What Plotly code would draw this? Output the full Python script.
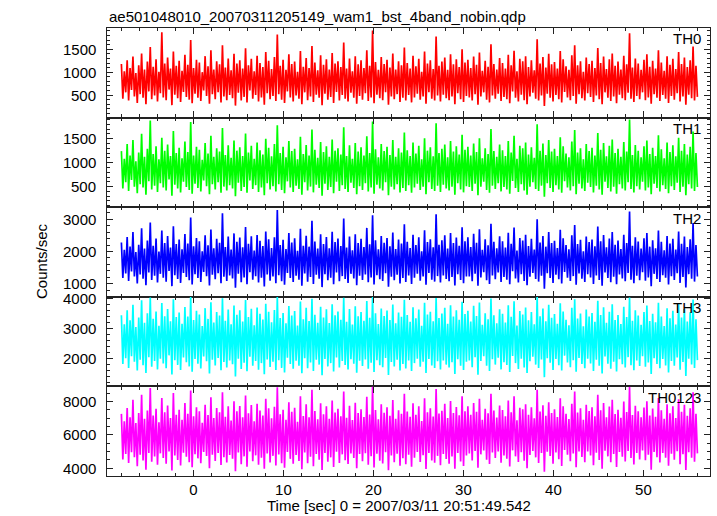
import numpy as np
import plotly.graph_objects as go
from plotly.subplots import make_subplots

title_text = "ae501048010_20070311205149_wam1_bst_4band_nobin.qdp"
band_names = ["TH0", "TH1", "TH2", "TH3", "TH0123"]
band_colors = ["#ff0000", "#00ff00", "#0000ff", "#00ffff", "#ff00ff"]
t_start, t_end = -8.0, 56.0

th0 = [
    1180,420,1020,560,1260,380,1090,610,1340,470,980,330,1150,520,1410,440,1060,300,1230,580,
    1550,410,1120,490,1280,360,1010,540,1870,450,1190,390,1320,620,1080,280,1450,510,1140,430,
    1250,350,1030,570,1380,460,1160,400,1700,320,1090,530,1270,440,1210,370,1000,600,1350,480,
    1130,310,1480,520,1060,410,1240,560,1170,340,1590,470,1100,390,1300,500,1040,430,1400,270,
    1190,550,1260,380,1080,460,1520,340,1150,600,1290,420,1020,500,1360,360,1200,450,1110,290,
    1440,540,1250,410,1070,480,1330,370,1820,520,1140,400,1270,330,1050,580,1390,450,1180,360,
    1230,490,1010,420,1460,300,1120,560,1310,390,1090,470,1570,350,1210,510,1040,440,1370,280,
    1160,530,1280,400,1060,460,1420,330,1190,570,1240,380,1110,500,1650,420,1080,360,1300,550,
    1020,440,1350,310,1170,480,1260,400,1090,540,1480,370,1140,450,1910,320,1220,510,1050,430,
    1330,390,1180,560,1270,290,1100,470,1410,410,1060,520,1240,350,1150,440,1540,380,1200,500,
    1080,340,1360,450,1130,530,1290,400,1010,470,1450,310,1190,560,1260,420,1070,380,1780,490,
    1140,360,1230,510,1320,430,1050,390,1390,470,1170,300,1280,540,1110,410,1500,350,1210,480,
    1270,450,1090,380,1340,520,1160,290,1430,470,1030,560,1250,400,1120,340,1610,490,1180,420,
    1060,530,1310,370,1200,460,1080,410,1380,320,1150,580,1470,440,1020,360,1290,510,1240,390,
    1350,300,1110,470,1260,550,1040,420,1720,380,1190,490,1330,260,1100,530,1400,440,1170,360,
    1220,500,1080,410,1460,340,1280,570,1130,450,1050,390,1370,480,1590,310,1150,520,1240,430,
    1010,380,1320,540,1180,460,1250,350,1090,490,1530,410,1200,300,1340,560,1070,440,1280,370,
    1410,470,1140,320,1230,510,1060,430,1360,390,1170,550,1850,420,1100,350,1300,480,1190,410,
    1050,560,1270,390,1390,450,1120,310,1250,520,1080,440,1480,370,1210,500,1030,420,1350,330,
    1160,480,1290,400,1070,540,1440,360,1180,470,1320,290,1110,510,1260,430,1560,380,1140,460,
]
th1 = [
    1240,460,1080,590,1390,410,1150,640,1470,500,1030,360,1210,550,1600,480,1120,330,1290,610,
    1880,440,1180,520,1340,390,1070,570,1520,480,1250,420,1380,650,1140,310,1660,540,1200,460,
    1310,380,1090,600,1440,490,1220,430,1850,350,1150,560,1330,470,1270,400,1060,630,1410,510,
    1190,340,1560,550,1120,440,1300,590,1230,370,1720,500,1160,420,1360,530,1100,460,1460,300,
    1250,580,1320,410,1140,490,1610,370,1210,630,1350,450,1080,530,1420,390,1260,480,1170,320,
    1500,570,1310,440,1130,510,1390,400,1780,550,1200,430,1330,360,1110,610,1450,480,1240,390,
    1290,520,1070,450,1540,330,1180,590,1370,420,1150,500,1690,380,1270,540,1100,470,1430,310,
    1220,560,1340,430,1120,490,1480,360,1250,600,1300,410,1170,530,1740,450,1140,390,1360,580,
    1080,470,1410,340,1230,510,1320,430,1150,570,1550,400,1200,480,1860,350,1280,540,1110,460,
    1390,420,1240,590,1330,320,1160,500,1470,440,1120,550,1300,380,1210,470,1630,410,1260,530,
    1140,370,1420,480,1190,560,1350,430,1070,500,1510,340,1250,590,1320,450,1130,410,1820,520,
    1200,390,1290,540,1380,460,1110,420,1450,500,1230,330,1340,570,1170,440,1580,380,1270,510,
    1330,490,1150,410,1400,560,1220,320,1510,500,1090,600,1300,430,1180,370,1700,520,1240,450,
    1120,570,1380,400,1260,490,1140,440,1450,350,1210,620,1560,470,1080,390,1350,550,1300,420,
    1420,330,1170,500,1320,590,1100,450,1800,410,1250,520,1400,290,1160,570,1470,470,1230,390,
    1290,530,1140,440,1530,370,1340,610,1190,480,1110,420,1440,510,1680,340,1210,560,1300,460,
    1070,410,1390,580,1240,490,1310,380,1150,520,1620,440,1270,330,1410,600,1130,470,1350,400,
    1480,500,1200,350,1290,550,1120,460,1430,420,1230,590,1900,450,1160,380,1370,510,1250,440,
    1110,600,1340,420,1460,480,1180,340,1310,560,1140,470,1570,400,1280,530,1090,450,1420,360,
    1220,510,1360,430,1130,580,1520,390,1250,500,1390,320,1170,550,1330,460,1650,410,1200,490,
]
th2 = [
    2280,1180,2050,1320,2450,1090,2150,1380,2600,1230,1980,1010,2210,1290,2720,1160,2090,960,2340,1350,
    2900,1120,2180,1250,2400,1040,2000,1310,2650,1190,2260,1070,2480,1400,2120,930,2780,1270,2230,1150,
    2370,1030,2070,1340,2540,1210,2250,1110,3050,980,2160,1300,2420,1180,2320,1060,2010,1370,2500,1240,
    2190,950,2680,1280,2100,1140,2390,1330,2270,1020,3180,1220,2140,1090,2460,1260,2060,1170,2560,880,
    2300,1310,2430,1050,2130,1200,2760,990,2240,1360,2470,1130,2030,1240,2510,1040,2330,1190,2170,920,
    2620,1290,2380,1100,2110,1230,2440,1020,3280,1270,2200,1080,2360,970,2080,1340,2570,1180,2280,1060,
    2410,1250,2020,1130,2700,940,2180,1320,2490,1070,2150,1210,2950,1000,2310,1280,2090,1160,2530,900,
    2230,1300,2450,1110,2100,1190,2610,990,2290,1350,2400,1080,2170,1240,3020,1150,2120,1030,2460,1310,
    2040,1170,2530,960,2260,1250,2390,1120,2140,1290,2730,1050,2220,1200,3120,980,2350,1270,2070,1140,
    2480,1090,2270,1330,2420,910,2160,1220,2590,1110,2080,1280,2370,1010,2250,1180,2840,1060,2300,1260,
    2110,1000,2520,1190,2200,1310,2440,1100,2010,1230,2660,970,2290,1340,2380,1130,2130,1070,3150,1240,
    2210,1040,2350,1260,2500,1150,2090,1080,2570,1210,2260,950,2430,1300,2180,1120,2750,1020,2320,1230,
    2440,1230,2140,1080,2550,1310,2270,940,2690,1200,2050,1360,2380,1110,2190,1000,2860,1260,2300,1140,
    2100,1350,2470,1060,2320,1210,2120,1130,2580,990,2240,1390,2740,1170,2030,1040,2420,1300,2340,1090,
    2520,960,2170,1220,2390,1340,2060,1150,3000,1070,2280,1250,2480,850,2150,1330,2600,1180,2260,1030,
    2330,1280,2110,1140,2670,1010,2410,1370,2200,1190,2070,1090,2500,1240,2820,970,2230,1320,2360,1160,
    2010,1060,2460,1300,2290,1200,2370,1000,2160,1260,2770,1120,2320,940,2510,1350,2130,1180,2400,1050,
    2600,1220,2210,990,2340,1290,2080,1170,2520,1080,2260,1340,3240,1130,2180,1020,2440,1250,2310,1110,
    2090,1360,2410,1100,2570,1200,2150,930,2350,1310,2100,1150,2650,1060,2300,1270,2040,1190,2480,980,
    2250,1240,2390,1120,2060,1330,2620,1030,2240,1210,2460,890,2140,1300,2380,1160,2880,1070,2200,1230,
]
th3 = [
    3450,1820,3150,2010,3620,1690,3280,2080,3800,1900,3060,1600,3380,1960,3950,1780,3200,1520,3520,2050,
    4050,1730,3330,1920,3580,1640,3100,2000,3860,1840,3420,1680,3660,2110,3250,1470,3990,1950,3390,1790,
    3540,1620,3170,2040,3730,1880,3410,1740,4080,1560,3290,1990,3600,1830,3480,1670,3090,2070,3690,1910,
    3330,1500,3890,1960,3210,1770,3560,2020,3440,1610,4020,1890,3270,1700,3640,1940,3150,1810,3780,1400,
    3470,2000,3620,1650,3240,1860,3960,1580,3390,2060,3670,1760,3120,1920,3710,1630,3500,1850,3310,1480,
    3840,1970,3570,1720,3220,1900,3630,1620,4060,1950,3360,1690,3530,1540,3180,2030,3760,1820,3440,1660,
    3590,1930,3110,1760,3910,1510,3320,2010,3700,1680,3260,1870,4000,1590,3470,1960,3200,1800,3740,1440,
    3380,1990,3650,1740,3190,1850,3820,1570,3450,2040,3580,1700,3300,1920,4040,1790,3230,1640,3660,1980,
    3140,1830,3750,1530,3420,1930,3560,1750,3270,1970,3930,1660,3370,1860,4070,1550,3520,1950,3160,1780,
    3680,1710,3430,2020,3610,1450,3290,1890,3810,1740,3180,1960,3540,1600,3400,1820,3970,1670,3460,1940,
    3230,1590,3720,1850,3350,2000,3640,1730,3100,1900,3870,1520,3480,1990,3570,1770,3250,1690,4030,1910,
    3360,1640,3510,1940,3700,1800,3170,1700,3790,1880,3410,1490,3620,1980,3300,1760,3900,1620,3490,1900,
    3600,1940,3240,1710,3770,2050,3430,1460,3880,1920,3130,2080,3520,1760,3320,1590,4010,1980,3450,1800,
    3180,2030,3650,1640,3500,1880,3210,1790,3790,1550,3400,2090,3920,1850,3110,1650,3590,2000,3480,1700,
    3710,1520,3280,1910,3560,2060,3150,1800,4060,1690,3420,1970,3680,1380,3250,2010,3800,1860,3370,1620,
    3490,1990,3170,1780,3850,1600,3580,2100,3300,1870,3120,1710,3700,1950,3990,1560,3340,2020,3510,1820,
    3080,1680,3640,2000,3410,1840,3530,1590,3230,1960,3940,1760,3460,1500,3720,2070,3200,1830,3570,1660,
    3820,1900,3290,1570,3460,1980,3160,1810,3740,1700,3390,2050,4050,1780,3270,1610,3620,1940,3440,1750,
    3130,2080,3560,1730,3780,1870,3260,1490,3500,2010,3220,1820,3870,1680,3410,1990,3090,1770,3690,1540,
    3350,1920,3600,1760,3140,2040,3830,1630,3380,1890,3660,1420,3240,2000,3550,1800,3980,1690,3320,1950,
]
th0123 = [
    7250,4520,6800,4850,7600,4300,7050,4950,8100,4650,6700,4100,7300,4800,8400,4450,6950,3900,7450,4900,
    8800,4380,7150,4700,7550,4200,6750,4880,8200,4600,7350,4250,7750,5000,7000,3850,8500,4750,7200,4480,
    7500,4150,6900,4920,7900,4680,7250,4350,8650,4050,7100,4830,7650,4580,7400,4280,6720,4970,7800,4720,
    7180,3980,8250,4800,7000,4420,7600,4900,7350,4180,8550,4650,7080,4330,7700,4780,6850,4560,8000,3800,
    7400,4940,7720,4230,7050,4700,8350,4080,7280,4990,7780,4400,6800,4760,7850,4200,7450,4620,7150,3950,
    8150,4870,7580,4330,6980,4730,7680,4150,8850,4810,7220,4290,7500,4020,6900,4960,7950,4550,7380,4260,
    7620,4790,6780,4420,8300,3920,7120,4930,7820,4280,7040,4680,8700,4110,7420,4850,6930,4500,7880,3880,
    7230,4910,7700,4380,6950,4640,8050,4060,7330,4980,7560,4300,7100,4820,8600,4470,7020,4240,7740,4880,
    6880,4600,7920,3990,7300,4840,7520,4410,7060,4890,8280,4190,7210,4710,8900,4030,7480,4860,6920,4430,
    7820,4270,7320,4950,7640,3860,7140,4750,8080,4340,6960,4860,7460,4130,7260,4590,8450,4220,7390,4800,
    7080,4070,7880,4620,7200,4970,7700,4360,6820,4770,8180,3940,7350,4910,7580,4450,7090,4310,8750,4730,
    7270,4170,7440,4840,7860,4540,7000,4260,8020,4690,7300,3960,7660,4900,7170,4390,8300,4120,7410,4750,
    7700,4880,7200,4450,7900,5020,7380,4010,8150,4820,6900,5050,7560,4500,7280,4240,8450,4930,7450,4600,
    7030,5000,7750,4320,7480,4750,7100,4560,8050,4090,7340,5060,8300,4700,6870,4360,7620,4950,7520,4430,
    7830,3990,7200,4780,7640,5030,6980,4640,8700,4300,7390,4900,7770,3770,7130,4980,7950,4720,7300,4260,
    7530,4940,7060,4530,8180,4120,7700,5080,7250,4800,6940,4410,7860,4870,8600,4040,7330,5000,7580,4660,
    6900,4350,7800,4990,7420,4760,7650,4160,7110,4920,8400,4480,7470,3950,7900,5040,7040,4700,7690,4340,
    8100,4840,7240,4060,7500,4960,7020,4680,7990,4390,7360,5020,8880,4600,7180,4210,7740,4910,7410,4520,
    7050,5050,7630,4470,8010,4800,7150,3900,7570,4970,7080,4650,8200,4330,7460,4900,6950,4620,7820,4140,
    7290,4860,7710,4500,7000,5010,8120,4230,7380,4830,7800,3880,7140,4950,7590,4610,8550,4370,7260,4880,
]

series = [th0, th1, th2, th3, th0123]
y_ranges = [[8, 1965], [70, 1940], [600, 3370], [1070, 4070], [3520, 8900]]
y_tickvals = [[500, 1000, 1500], [500, 1000, 1500], [1000, 2000, 3000],
              [2000, 3000, 4000], [4000, 6000, 8000]]
y_minor = [100, 100, 200, 200, 500]
x_range = [-9.6, 57.4]

FONT = "Liberation Sans, Arial, Helvetica, sans-serif"
AXC = "#222222"

fig = make_subplots(rows=5, cols=1, shared_xaxes=False, vertical_spacing=0)

for i, (vals, col, name) in enumerate(zip(series, band_colors, band_names)):
    sfx = "" if i == 0 else str(i + 1)
    t = np.linspace(t_start, t_end, len(vals))
    fig.add_trace(go.Scatter(x=t, y=vals, mode="lines",
                             line=dict(color=col, width=1.7, simplify=False),
                             name=name, showlegend=False), row=i + 1, col=1)
    fig.update_yaxes(range=y_ranges[i], tickmode="array",
                     tickvals=y_tickvals[i], showticklabels=False,
                     ticks="inside", ticklen=6, tickwidth=1, tickcolor=AXC,
                     minor=dict(ticks="inside", dtick=y_minor[i], tick0=0,
                                ticklen=3, tickcolor=AXC, tickwidth=1),
                     showline=True, linecolor=AXC, linewidth=1.3,
                     mirror="ticks", showgrid=False, zeroline=False,
                     row=i + 1, col=1)
    fig.update_xaxes(range=x_range, dtick=10, tick0=0,
                     ticks="inside", ticklen=6, tickwidth=1, tickcolor=AXC,
                     minor=dict(ticks="inside", dtick=2, ticklen=3,
                                tickcolor=AXC, tickwidth=1),
                     showline=True, linecolor=AXC, linewidth=1.3,
                     mirror="ticks", showgrid=False, zeroline=False,
                     showticklabels=(i == 4),
                     tickfont=dict(family=FONT, size=15, color="#000"),
                     row=i + 1, col=1)
    # y tick labels placed through the axis scale
    for v in y_tickvals[i]:
        fig.add_annotation(text=str(v), xref="paper", yref=f"y{sfx}",
                           x=0, y=v, xanchor="right", yanchor="middle",
                           xshift=-9, showarrow=False,
                           font=dict(family=FONT, size=15, color="#000"))
    fig.add_annotation(text=name, xref=f"x{sfx} domain", yref=f"y{sfx} domain",
                       x=0.988, y=0.995, xanchor="right", yanchor="top",
                       showarrow=False,
                       font=dict(family=FONT, size=15, color="#000"))

fig.add_annotation(text=title_text, xref="paper", yref="paper", x=0, y=1,
                   xanchor="left", yanchor="bottom", yshift=1, showarrow=False,
                   font=dict(family=FONT, size=15, color="#000"))
fig.add_annotation(text="Counts/sec", xref="paper", yref="paper", x=0, y=0.48,
                   xshift=-65, textangle=-90, xanchor="center", yanchor="middle",
                   showarrow=False, font=dict(family=FONT, size=15, color="#000"))
fig.add_annotation(text="Time [sec] 0 = 2007/03/11 20:51:49.542", xref="paper",
                   yref="paper", x=0.485, y=0, yshift=-29, xanchor="center",
                   yanchor="middle", showarrow=False,
                   font=dict(family=FONT, size=15, color="#000"))

fig.update_layout(width=717, height=516,
                  margin=dict(l=107, r=7, t=28, b=40),
                  plot_bgcolor="white", paper_bgcolor="white")

fig.write_html("out.html", config={"displayModeBar": False},
               post_script="document.body.style.margin='0';document.body.style.overflow='hidden';")
